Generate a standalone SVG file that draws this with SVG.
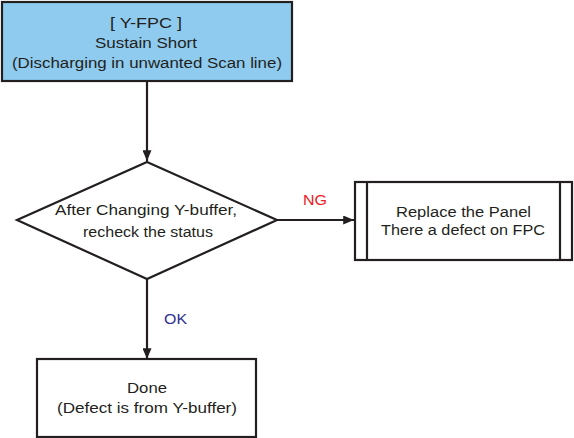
<svg xmlns="http://www.w3.org/2000/svg" width="574" height="438" viewBox="0 0 574 438">
<defs>
<style>
.box{fill:#fff;stroke:#231f20;stroke-width:2.2}
.t{font-family:"Liberation Sans",Arial,sans-serif;font-size:15.5px;fill:#231f20;text-anchor:middle}
.edge{stroke:#231f20;stroke-width:2.2;fill:none}
</style>
<marker id="ah" viewBox="0 0 12 10" refX="12" refY="5" markerWidth="12" markerHeight="9" markerUnits="userSpaceOnUse" orient="auto">
<path d="M0,0 L12,5 L0,10 Z" fill="#231f20"/>
</marker>
</defs>
<rect width="574" height="438" fill="#fff"/>
<g id="connectors">
<line class="edge" x1="147" y1="82" x2="147" y2="161" marker-end="url(#ah)"/>
<line class="edge" x1="277" y1="220" x2="354" y2="220" marker-end="url(#ah)"/>
<line class="edge" x1="147" y1="279" x2="147" y2="359" marker-end="url(#ah)"/>
<text x="315" y="205" class="t" style="fill:#ed1c24" textLength="24" lengthAdjust="spacingAndGlyphs">NG</text>
<text x="175.5" y="324" class="t" style="fill:#2e3192" textLength="23" lengthAdjust="spacingAndGlyphs">OK</text>
</g>
<g id="start">
<rect x="2" y="2" width="290" height="79" class="box" style="fill:#8fcbef"/>
<text x="146" y="28" class="t" textLength="72" lengthAdjust="spacingAndGlyphs">[ Y-FPC ]</text>
<text x="146" y="48" class="t" textLength="102" lengthAdjust="spacingAndGlyphs">Sustain Short</text>
<text x="147" y="68" class="t" textLength="270" lengthAdjust="spacingAndGlyphs">(Discharging in unwanted Scan line)</text>
</g>
<g id="decision">
<polygon points="147,162 277,220 147,279 17,220" class="box"/>
<text x="146" y="215" class="t" textLength="182" lengthAdjust="spacingAndGlyphs">After Changing Y-buffer,</text>
<text x="148" y="237" class="t" textLength="130" lengthAdjust="spacingAndGlyphs">recheck the status</text>
</g>
<g id="replace">
<rect x="355" y="182" width="217" height="78" class="box"/>
<line x1="367" y1="182" x2="367" y2="260" class="edge"/>
<line x1="560" y1="182" x2="560" y2="260" class="edge"/>
<text x="463.5" y="217" class="t" textLength="135" lengthAdjust="spacingAndGlyphs">Replace the Panel</text>
<text x="463" y="235" class="t" textLength="164" lengthAdjust="spacingAndGlyphs">There a defect on FPC</text>
</g>
<g id="done">
<rect x="37" y="359" width="219" height="78" class="box"/>
<text x="147" y="393" class="t" textLength="40" lengthAdjust="spacingAndGlyphs">Done</text>
<text x="147" y="413" class="t" textLength="180" lengthAdjust="spacingAndGlyphs">(Defect is from Y-buffer)</text>
</g>
</svg>
